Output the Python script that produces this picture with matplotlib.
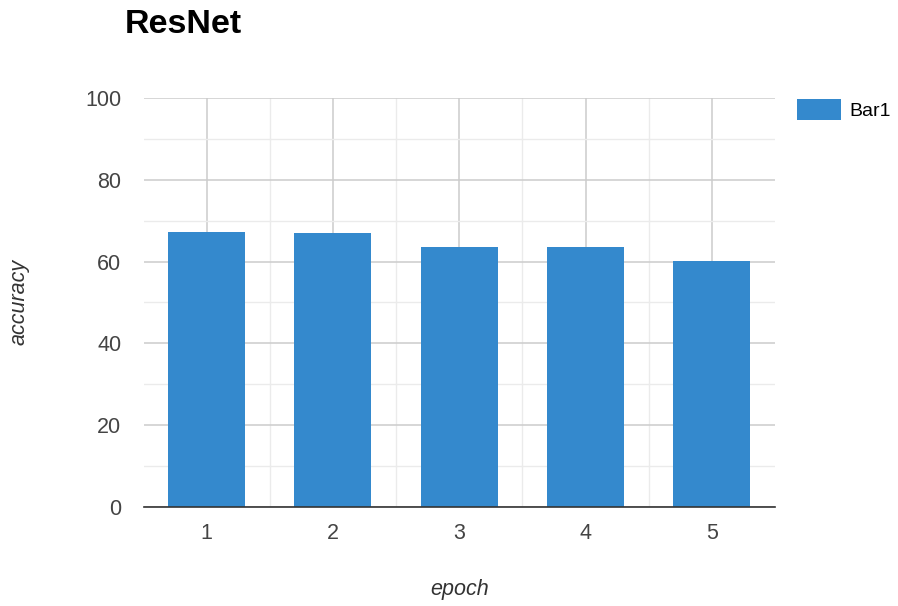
import matplotlib.pyplot as plt
from matplotlib.ticker import MultipleLocator

plt.rcParams["font.family"] = ["Liberation Sans", "DejaVu Sans"]

# 数据
epochs = ["1", "2", "3", "4", "5"]
accuracy = [67.3, 66.9, 63.6, 63.6, 60.2]
series_name = "Bar1"


def main():
    fig = plt.figure(figsize=(8.98, 6.06), dpi=100)
    ax = fig.add_axes([0.1598, 0.1639, 0.7032, 0.6739])

    x = list(range(len(epochs)))
    ax.bar(x, accuracy, width=0.61, color="#3489cd", label=series_name, zorder=3)

    ax.set_xlim(-0.5, len(epochs) - 0.5)
    ax.set_ylim(0, 100)
    ax.set_xticks(x)
    ax.set_xticklabels(epochs)
    ax.set_xticks([i + 0.5 for i in x[:-1]], minor=True)
    ax.yaxis.set_major_locator(MultipleLocator(20))
    ax.yaxis.set_minor_locator(MultipleLocator(10))

    ax.grid(which="major", color="#cccccc", linewidth=1.1, zorder=0)
    ax.grid(which="minor", color="#ebebeb", linewidth=1.0, zorder=0)
    ax.tick_params(which="both", length=0)
    ax.tick_params(axis="y", pad=16, labelsize=15.5, labelcolor="#444444")
    ax.tick_params(axis="x", pad=12, labelsize=15.5, labelcolor="#444444")

    for s in ["top", "right", "left"]:
        ax.spines[s].set_visible(False)
    ax.spines["bottom"].set_color("#333333")
    ax.spines["bottom"].set_linewidth(1.2)
    ax.spines["bottom"].set_zorder(4)

    fig.text(0.139, 0.9455, "ResNet", fontsize=24.5, fontweight="bold",
             ha="left", va="baseline")
    fig.text(0.512, 0.027, "epoch", fontsize=15.5, style="italic",
             color="#333333", ha="center", va="center")
    fig.text(0.021, 0.501, "accuracy", fontsize=15.5, style="italic",
             color="#333333", ha="center", va="center", rotation=90)

    ax.legend(loc="upper left", bbox_to_anchor=(1.022, 1.017), frameon=False,
              fontsize=14, handlelength=2.3, handleheight=1.3,
              handletextpad=0.4, borderaxespad=0)

    fig.savefig("out.png", dpi=100)


if __name__ == "__main__":
    main()
